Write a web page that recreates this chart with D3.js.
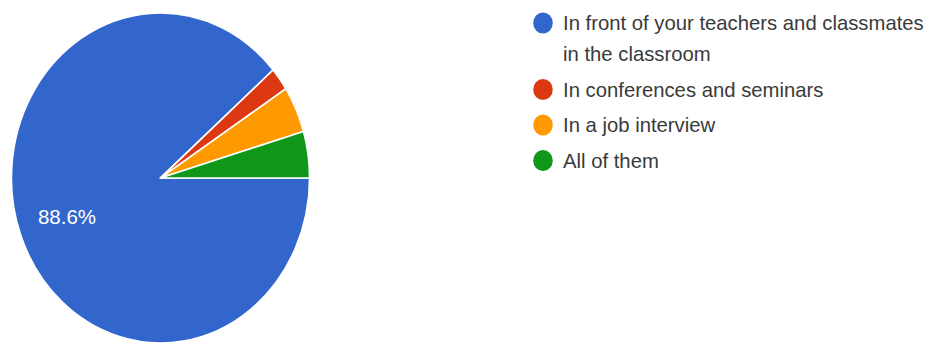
<!DOCTYPE html>
<html>
<head>
<meta charset="utf-8">
<script src="https://cdn.jsdelivr.net/npm/d3@7"></script>
<style>
  html, body { margin: 0; padding: 0; background: #fff; }
  svg { display: block; }
</style>
</head>
<body>
<svg id="chart" width="930" height="346"></svg>
<script>
const categories = [
  "In front of your teachers and classmates in the classroom",
  "In conferences and seminars",
  "In a job interview",
  "All of them"
];
const values = [39, 1, 2, 2];
const colors = ["#3366cc", "#dc3912", "#ff9900", "#109618"];

const svg = d3.select("#chart");
const cx = 160.5, cy = 178, rx = 149, ry = 165;

const pie = d3.pie().sort(null)
  .startAngle(Math.PI / 2)
  .endAngle(Math.PI / 2 + 2 * Math.PI)
  .value(d => d);
const arcs = pie(values);
const total = d3.sum(values);

const arc = d3.arc().innerRadius(0).outerRadius(rx);
const g = svg.append("g")
  .attr("transform", `translate(${cx},${cy}) scale(1,${ry / rx})`);

g.selectAll("path.slice").data(arcs).enter().append("path")
  .attr("class", "slice")
  .attr("d", arc)
  .attr("fill", (d, i) => colors[i])
  .attr("stroke", "#fff")
  .attr("stroke-width", 1.5)
  .attr("stroke-linejoin", "round");

const labelArc = d3.arc().innerRadius(rx * 0.67).outerRadius(rx * 0.67);
const fmt = v => (v / total * 100).toFixed(1) + "%";
arcs.forEach((d, i) => {
  if (d.value / total < 0.05) return;
  const [lx, ly] = labelArc.centroid(d);
  svg.append("text")
    .attr("x", cx + lx)
    .attr("y", cy + ly * ry / rx)
    .attr("text-anchor", "middle")
    .attr("dy", "0.36em")
    .attr("font-family", "'Liberation Sans', Arial, sans-serif")
    .attr("font-size", "20.5px")
    .attr("fill", "#ffffff")
    .text(fmt(d.value));
});

// Legend
const legendX = 543, textX = 563, maxW = 368;
const lineH = 31, itemGap = 35.5;
let baseline = 30;
categories.forEach((cat, i) => {
  const t = svg.append("text")
    .attr("x", textX)
    .attr("y", baseline)
    .attr("font-family", "'Liberation Sans', Arial, sans-serif")
    .attr("font-size", "20.3px")
    .attr("fill", "#3a3a3a");
  const words = cat.split(" ");
  let line = [];
  let tspan = t.append("tspan").attr("x", textX).attr("y", baseline);
  let lines = 1;
  words.forEach(w => {
    line.push(w);
    tspan.text(line.join(" "));
    if (tspan.node().getComputedTextLength() > maxW && line.length > 1) {
      line.pop();
      tspan.text(line.join(" "));
      line = [w];
      tspan = t.append("tspan").attr("x", textX)
        .attr("y", baseline + lines * lineH).text(w);
      lines++;
    }
  });
  svg.append("ellipse")
    .attr("cx", legendX).attr("cy", baseline - 7)
    .attr("rx", 9.8).attr("ry", 10.5)
    .attr("fill", colors[i]);
  baseline += (lines - 1) * lineH + itemGap;
});
</script>
</body>
</html>
